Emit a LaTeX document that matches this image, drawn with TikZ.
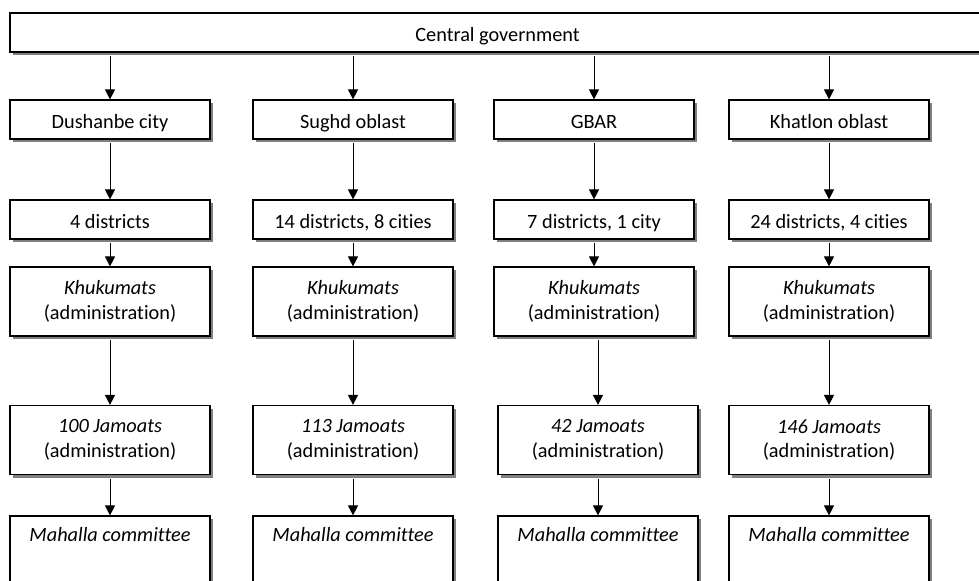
\documentclass[tikz,border=0pt]{standalone}
\usepackage{fontspec}
\setmainfont{Carlito}[Ligatures=CommonOff]
\usetikzlibrary{arrows.meta,shadows}

\begin{document}
\begin{tikzpicture}[x=0.5pt,y=0.5pt,
    box/.style={draw, line width=0.6pt, fill=white, align=center,
      minimum width=100pt, minimum height=34.5pt, inner sep=0pt,
      font=\fontsize{10.15pt}{12.4pt}\selectfont,
      drop shadow={shadow xshift=1.5pt, shadow yshift=-1.5pt, fill=black!50, opacity=1}},
    oneline/.style={minimum height=19.5pt, text height=8.8pt, text depth=0pt},
    flow/.style={-{Triangle[width=5pt,length=5pt]}, line width=0.5pt, shorten <=1.7pt}]

    \useasboundingbox (0,0) rectangle (979,-580);

    % Top level
    \node [box, oneline, minimum width=487.5pt] (gov) at (497.5,-32.5) {Central government};

    % For each region ...
    \foreach \n/\x/\dx/\region/\dist/\jam in {1/110/0/Dushanbe city/4 districts/100,
        2/353/0/Sughd oblast/{14 districts, 8 cities}/113,
        3/594/4/GBAR/{7 districts, 1 city}/42,
        4/829/0/Khatlon oblast/{24 districts, 4 cities}/146} {
      \node [box, oneline] (reg\n)  at (\x, -119.5) {\region};
      \node [box, oneline] (dist\n) at (\x, -219.5) {\dist};
      \node [box] (khuk\n) at (\x, -301.5) {\textit{Khukumats}\\(administration)};

      % Jamoats and mahallas
      \node [box] (jam\n) at (\x+\dx, -440) {\textit{\jam\ Jamoats}\\(administration)};
      \node [box] (mah\n) at (\x+\dx, -550.5) {\textit{Mahalla committee}\\ \strut};

      \draw [flow] (gov.south -| reg\n.north) -- (reg\n.north);
      \draw [flow] (reg\n.south) -- (dist\n.north);
      \draw [flow] (dist\n.south) -- (khuk\n.north);
      \draw [flow] (khuk\n.south -| jam\n.north) -- (jam\n.north);
      \draw [flow] (jam\n.south) -- (mah\n.north);
    }

\end{tikzpicture}
\end{document}
